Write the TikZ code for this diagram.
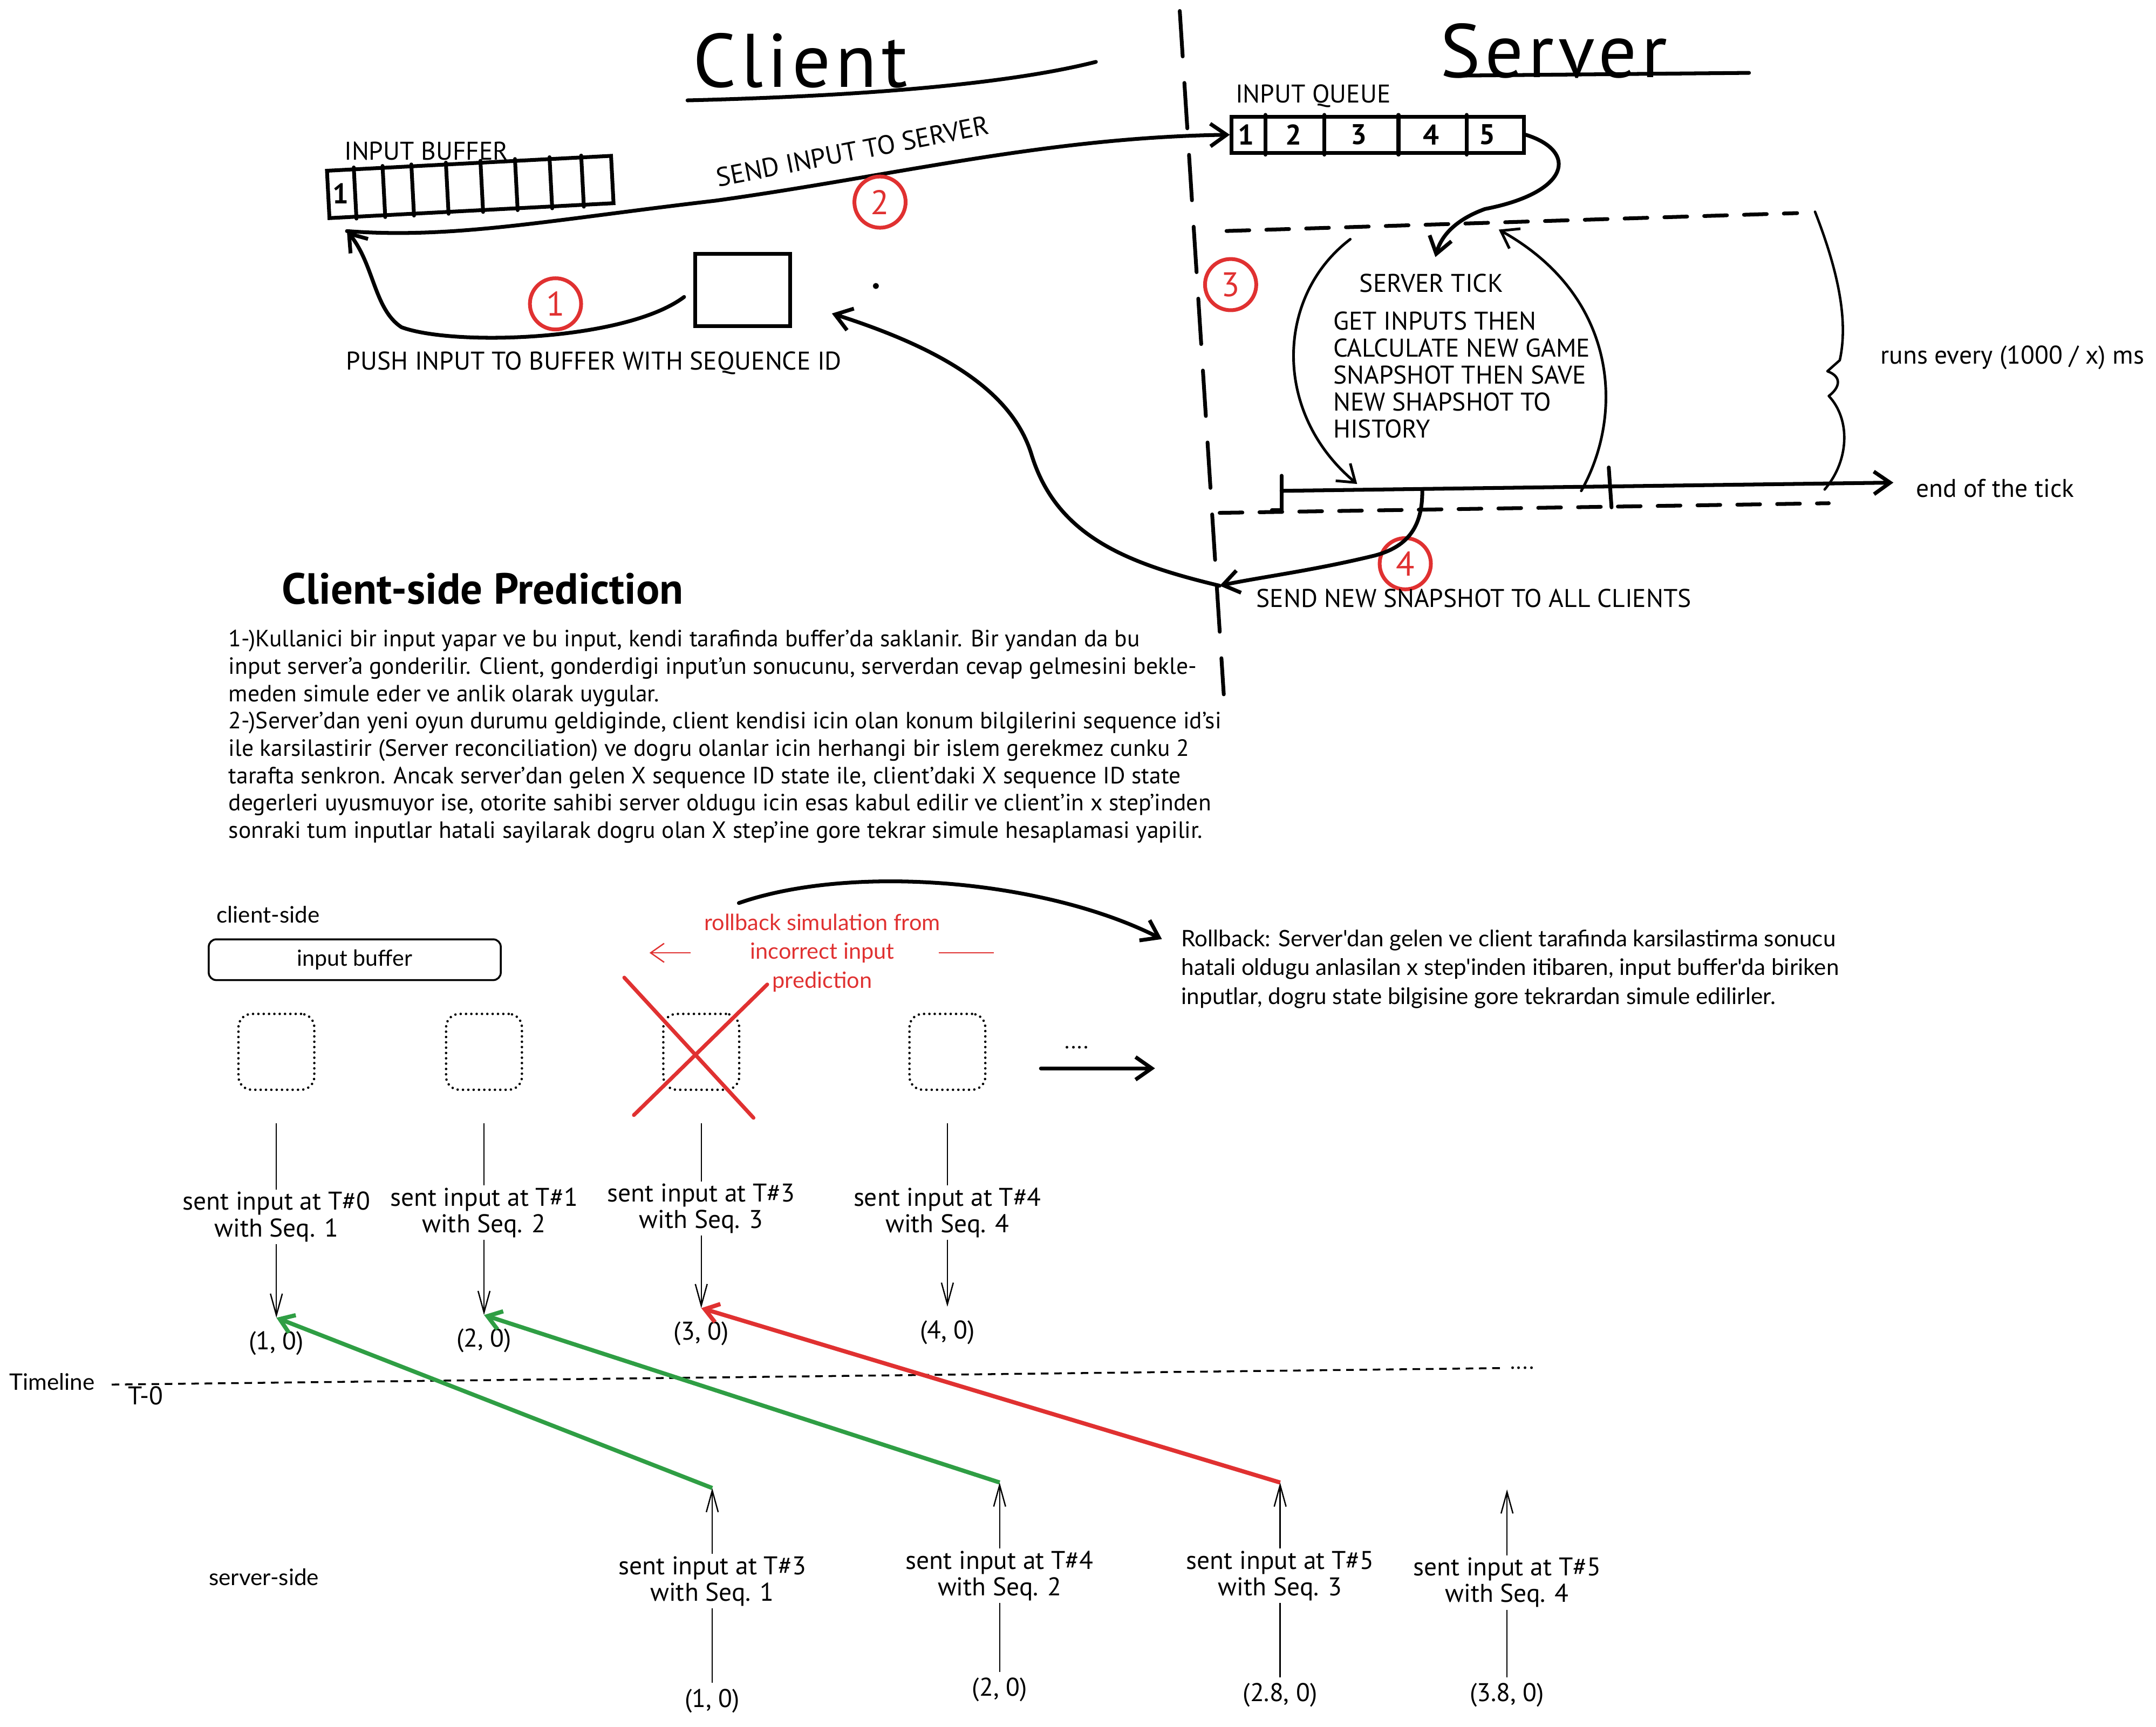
\documentclass[tikz,border=0pt]{standalone}
\usepackage{fontspec}
\setmainfont{PT Sans}
\newfontfamily\notefont{Lato}
\newfontfamily\titlefont[LetterSpace=6]{PT Sans}
\usepackage{tikz}
\usetikzlibrary{arrows.meta,positioning,calc}
\definecolor{markred}{HTML}{E03131}
\definecolor{markgreen}{HTML}{2F9E44}
\tikzset{
  handline/.style={line width=2pt,line cap=round,line join=round},
  handarrow/.style={handline,-{Straight Barb[length=3mm,width=4.2mm]}},
  loopline/.style={handarrow,line width=1.4pt},
  handlabel/.style={font=\fontsize{13.5}{14.2}\selectfont,inner sep=1pt},
  handtitle/.style={font=\titlefont\fontsize{40}{44}\selectfont},
  stepmark/.style={circle,draw=markred,text=markred,line width=2pt,minimum size=27pt,
    inner sep=0pt,font=\fontsize{18}{18}\selectfont},
  cellbox/.style={draw,line width=2pt,inner sep=0pt},
  tickdash/.style={handline,dash pattern=on 12pt off 9pt},
  notetext/.style={font=\notefont\fontsize{12}{15.2}\selectfont,align=left,inner sep=0pt},
  pillbox/.style={draw,line width=1pt,rounded corners=4pt,minimum width=154pt,
    minimum height=21.5pt,font=\notefont\fontsize{11.7}{13}\selectfont},
  slotbox/.style={draw,line width=1.3pt,dash pattern=on 0.01pt off 2.8pt,line cap=round,
    rounded corners=7pt,minimum size=40pt},
  seqlabel/.style={font=\fontsize{13.5}{14}\selectfont,align=center,inner sep=1pt},
  stateval/.style={font=\fontsize{13.5}{14}\selectfont,inner sep=7pt},
  thinline/.style={line width=0.7pt},
  thinarrow/.style={thinline,-{Straight Barb[length=4mm,width=2.2mm]}},
  matcharrow/.style={line width=2.2pt,draw=markgreen,-{Straight Barb[length=2.5mm,width=3.5mm]}},
  missarrow/.style={matcharrow,draw=markred}
}
\begin{document}
\begin{tikzpicture}[x=0.02548cm,y=-0.02548cm]
  \useasboundingbox (0,0) rectangle (1568,1256);

  \node[handtitle] (clienttitle) at (582,44) {Client};
  \draw[handline] (500,73) .. controls (620,70) and (730,62) .. (797,45);
  \node[handtitle] (servertitle) at (1130,37) {Server};
  \draw[handline] (1060,55) -- (1272,53);
  \draw[handline,dash pattern=on 24pt off 14pt] (858,8) -- (890,505);

  \node[handlabel] (buflabel) at (310,110) {INPUT BUFFER};
  \node[cellbox,minimum width=150pt,minimum height=25pt,rotate=3] (inbuf) at (342,136) {};
  \foreach \f in {0.10,0.20,0.30,0.42,0.54,0.66,0.78,0.89}
    \draw[handline] ($(inbuf.north west)!\f!(inbuf.north east)$)
      -- ($(inbuf.south west)!\f!(inbuf.south east)$);
  \node[handlabel,font=\fontsize{15}{15}\selectfont\bfseries] (bufone)
    at ($(inbuf.west)!0.05!(inbuf.east)$) {1};

  \node[handlabel] (queuelabel) at (955,70) {INPUT QUEUE};
  \node[cellbox,minimum width=154pt,minimum height=19pt] (queue) at (1002,98) {};
  \foreach \f in {0.12,0.32,0.57,0.80}
    \draw[handline] ($(queue.north west)!\f!(queue.north east)$)
      -- ($(queue.south west)!\f!(queue.south east)$);
  \foreach \n/\f in {1/0.055,2/0.215,3/0.435,4/0.68,5/0.87}
    \node[handlabel,font=\fontsize{15}{15}\selectfont\bfseries] (q\n)
      at ($(queue.west)!\f!(queue.east)$) {\n};

  \node[cellbox,minimum width=50pt,minimum height=38pt] (inputsq) at (540,211) {};
  \coordinate (bufin) at ($(inbuf.south west)+(14,8)$);
  \draw[handarrow,shorten <=6pt] (inputsq.west) .. controls (455,248) and (330,252) .. (292,238)
    .. controls (272,225) and (272,192) .. (bufin);
  \draw[handarrow] (bufin) .. controls (330,174) and (400,160) .. (520,146)
    .. controls (650,128) and (760,100) .. (queue.west);
  \node[handlabel,rotate=11,font=\fontsize{14}{14}\selectfont] (sendlabel) at (620,110) {SEND INPUT TO SERVER};
  \node[stepmark] (mark2) at (640,147) {2};
  \node[stepmark] (mark1) at (404,221) {1};
  \fill (637,208) circle (1.6pt);
  \node[handlabel] (pushlabel) at (432,264) {PUSH INPUT TO BUFFER WITH SEQUENCE ID};

  \draw[tickdash] (892,168) -- (1307,155);
  \draw[tickdash] (887,373) -- (1330,366);
  \draw[handline,line width=1.3pt] (1320,154) .. controls (1338,200) and (1344,235) .. (1338,262)
    -- (1329,270) .. controls (1340,274) and (1338,282) .. (1330,288)
    .. controls (1346,305) and (1345,335) .. (1327,356);
  \node[handlabel] (ticktitle) at (1041,206) {SERVER TICK};
  \node[handlabel,anchor=north west,align=left] (tickdesc) at (968,225)
    {GET INPUTS THEN\\CALCULATE NEW GAME\\SNAPSHOT THEN SAVE\\NEW SHAPSHOT TO\\HISTORY};
  \draw[handarrow,shorten >=8pt] (queue.east) .. controls (1148,110) and (1142,140) .. (1080,152)
    .. controls (1058,160) and (1048,172) .. (ticktitle.north);
  \coordinate (tickstart) at (932,357);
  \coordinate (tickend) at (1377,351);
  \draw[handarrow] (tickstart) -- (tickend);
  \draw[handline] (932,346) -- (tickstart) -- (932,371) -- (925,371);
  \draw[handline] (1170,340) -- (1172,369);
  \coordinate (loopin) at (982,174);
  \coordinate (loopout) at (987,352);
  \coordinate (loopback) at (1150,357);
  \coordinate (looptop) at (1090,167);
  \draw[loopline] (loopin) .. controls (928,215) and (925,300) .. (loopout);
  \draw[loopline] (loopback) .. controls (1182,300) and (1176,215) .. (looptop);
  \node[handlabel,anchor=west] (endtick) at (1392,355) {end of the tick};
  \node[handlabel,anchor=west] (runsevery) at (1366,260) {runs every (1000 / x) ms};
  \node[stepmark] (mark3) at (895,207) {3};
  \node[stepmark] (mark4) at (1022,410) {4};

  \coordinate (snaphub) at (887,426);
  \coordinate (clientrx) at (605,228);
  \draw[handarrow] ($(tickstart)!0.23!(tickend)$) .. controls (1035,385) and (1022,398) .. (1000,404)
    .. controls (955,415) and (915,420) .. (snaphub);
  \draw[handarrow] (snaphub) .. controls (820,410) and (768,390) .. (750,330)
    .. controls (735,282) and (680,252) .. (clientrx);
  \node[handlabel,anchor=west] (sendsnap) at (912,435) {SEND NEW SNAPSHOT TO ALL CLIENTS};

  \node[font=\fontsize{23}{26}\selectfont\bfseries] (predtitle) at (351,428) {Client-side Prediction};
  \node[anchor=north west,align=left,inner sep=0pt,font=\fontsize{12.4}{14.4}\selectfont] (explain)
    at (166,458) {1-)Kullanici bir input yapar ve bu input, kendi tarafinda buffer'da saklanir. Bir yandan da bu\\
    input server'a gonderilir. Client, gonderdigi input'un sonucunu, serverdan cevap gelmesini bekle-\\
    meden simule eder ve anlik olarak uygular.\\
    2-)Server'dan yeni oyun durumu geldiginde, client kendisi icin olan konum bilgilerini sequence id'si\\
    ile karsilastirir (Server reconciliation) ve dogru olanlar icin herhangi bir islem gerekmez cunku 2\\
    tarafta senkron. Ancak server'dan gelen X sequence ID state ile, client'daki X sequence ID state\\
    degerleri uyusmuyor ise, otorite sahibi server oldugu icin esas kabul edilir ve client'in x step'inden\\
    sonraki tum inputlar hatali sayilarak dogru olan X step'ine gore tekrar simule hesaplamasi yapilir.};

  \node[notetext] (clientside) at (195,665) {client-side};
  \node[pillbox] (bufpill) at (258,698) {input buffer};
  \foreach \i/\x/\ly/\tk/\vy in {1/201/885/0/977,2/352/882/1/975,3/510/879/3/970,4/689/882/4/969}{
    \node[slotbox] (slot\i) at (\x,765) {};
    \node[seqlabel] (clab\i) at (\x,\ly) {sent input at T\#\tk\\with Seq. \i};
    \node[stateval] (cval\i) at (\x,\vy) {(\i, 0)};
    \draw[thinline,shorten <=17pt] (slot\i) -- (clab\i);
    \draw[thinarrow] (clab\i) -- (cval\i);
  }
  \draw[markred,line width=2pt,line cap=round] (454,711) -- (548,813);
  \draw[markred,line width=2pt,line cap=round] (461,811) -- (558,716);
  \node[font=\notefont\fontsize{11.8}{15.2}\selectfont,text=markred,align=center] (rbtext) at (598,693)
    {rollback simulation from\\incorrect input\\prediction};
  \draw[markred,thinline,-{Straight Barb[length=2.5mm,width=3.5mm]}] ($(rbtext.west)+(-5,0)$) -- ++(-30,0);
  \draw[markred,thinline] ($(rbtext.east)+(-6,0)$) -- ++(40,0);
  \node[notetext,anchor=north west] (rbnote) at (859,676)
    {Rollback: Server'dan gelen ve client tarafinda karsilastirma sonucu\\
     hatali oldugu anlasilan x step'inden itibaren, input buffer'da biriken\\
     inputlar, dogru state bilgisine gore tekrardan simule edilirler.};
  \coordinate (rbstart) at ($(rbtext.north west)+(30,-3)$);
  \draw[handarrow] (rbstart) .. controls (620,628) and (760,640) .. ($(rbnote.north west)+(-14,7)$);
  \node[font=\fontsize{12}{12}\selectfont] (moredots) at (783,762) {....};
  \coordinate (morefrom) at (757,777);
  \coordinate (moreto) at (840,777);
  \draw[handarrow] (morefrom) -- (moreto);

  \node[notetext] (timeline) at (38,1005) {Timeline};
  \node[font=\fontsize{12}{12}\selectfont] (tldots) at (1107,995) {....};
  \draw[line width=1pt,dash pattern=on 4pt off 3pt] ($(timeline.east)+(12,2)$) -- (tldots.west);
  \node[handlabel] (tzero) at (106,1015) {T-0};

  \node[notetext] (serverside) at (192,1147) {server-side};
  \foreach \i/\x/\ly/\tk/\val/\vy in {1/518/1150/3/1/1237,2/727/1146/4/2/1229,3/931/1146/5/2.8/1233,4/1096/1151/5/3.8/1233}{
    \node[seqlabel] (slab\i) at (\x,\ly) {sent input at T\#\tk\\with Seq. \i};
    \node[stateval,inner sep=3pt] (sval\i) at (\x,\vy) {(\val, 0)};
    \coordinate (sent\i) at ($(slab\i.north)+(0,-48)$);
    \draw[thinline] (sval\i) -- (slab\i);
    \draw[thinarrow] (slab\i) -- (sent\i);
  }
  \draw[matcharrow] (sent1) -- (cval1.north);
  \draw[matcharrow] (sent2) -- (cval2.north);
  \draw[missarrow] (sent3) -- (cval3.north);
\end{tikzpicture}
\end{document}
